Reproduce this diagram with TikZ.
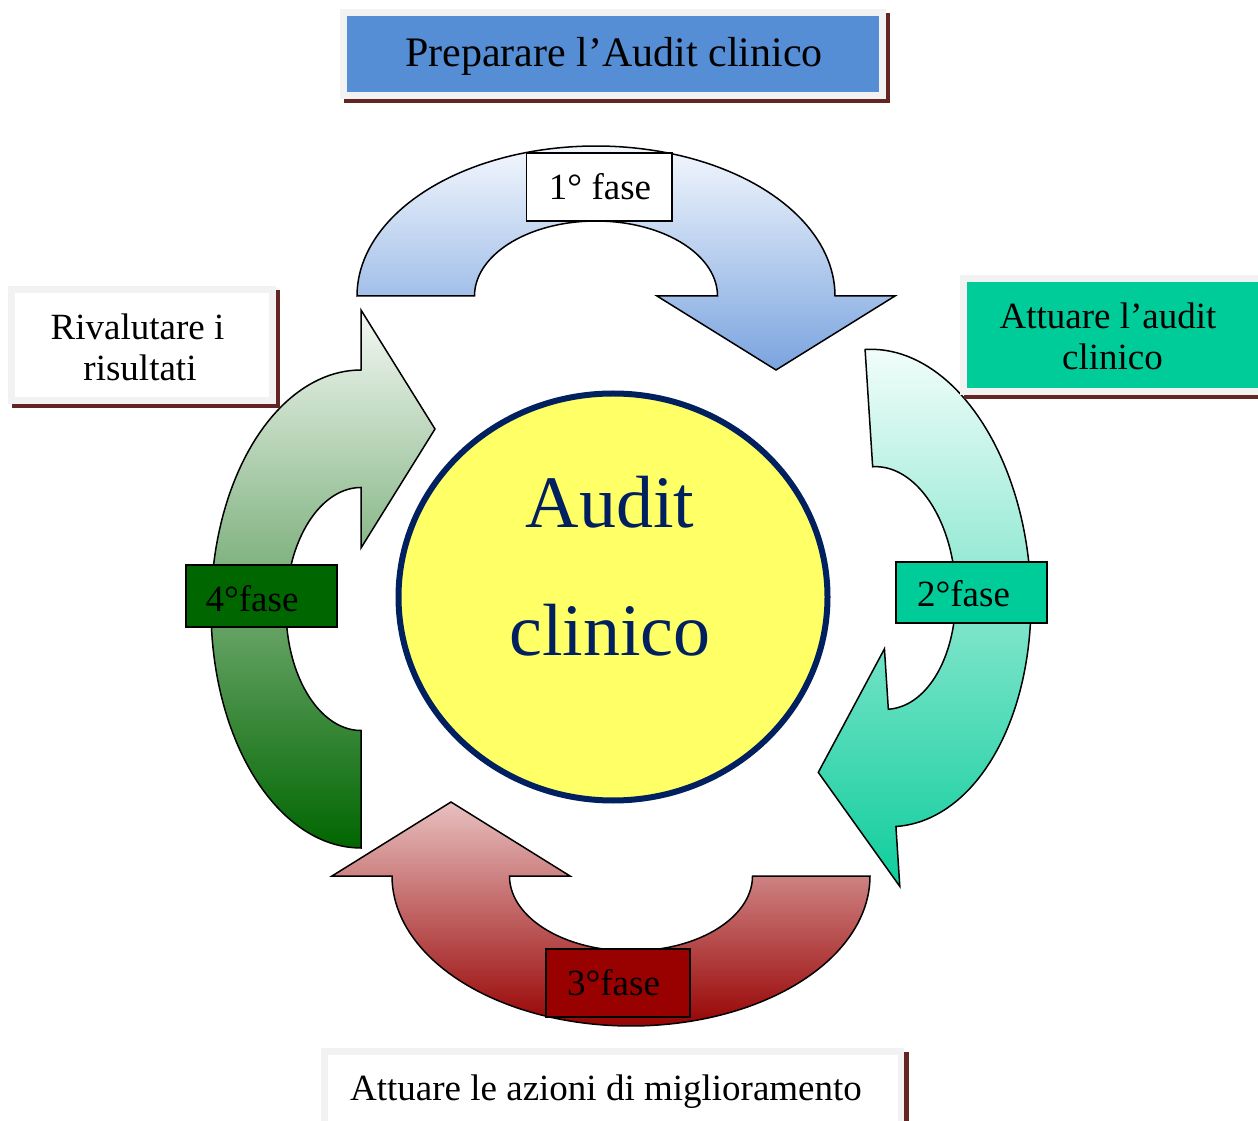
\documentclass[tikz,border=0pt]{standalone}
\usepackage{fontspec}
\setmainfont{Liberation Serif}
\usetikzlibrary{shapes.geometric}
\definecolor{shadowred}{RGB}{99,37,35}
\definecolor{framegray}{RGB}{242,242,242}
\definecolor{topblue}{RGB}{85,142,213}
\definecolor{audgreen}{RGB}{0,204,153}
\definecolor{navy}{RGB}{0,32,96}
\definecolor{circfill}{RGB}{255,255,102}
\definecolor{fasered}{RGB}{153,0,0}
\definecolor{fasegreen}{RGB}{0,102,0}
\definecolor{blueA}{RGB}{243,247,253}
\definecolor{blueB}{RGB}{122,164,223}
\definecolor{tealA}{RGB}{241,253,250}
\definecolor{tealB}{RGB}{14,205,156}
\definecolor{redA}{RGB}{232,192,192}
\definecolor{redB}{RGB}{152,4,4}
\definecolor{greenA}{RGB}{244,248,244}
\definecolor{greenB}{RGB}{0,102,0}
\newcommand\cyclearrow[5]{%
  \def\acx{#1}\def\acy{#2}\def\aan{#3}%
  \shadedraw[top color=#4, bottom color=#5, draw=black, line width=1.5pt, line join=miter]
   plot[domain=180:0, samples=90, variable=\t]
     ({\acx+239*cos(\t)*cos(\aan)-150*sin(\t)*sin(\aan)},{\acy+239*cos(\t)*sin(\aan)+150*sin(\t)*cos(\aan)})
   -- ({\acx+299*cos(\aan)},{\acy+299*sin(\aan)})
   -- ({\acx+180*cos(\aan)+74*sin(\aan)},{\acy+180*sin(\aan)-74*cos(\aan)})
   -- ({\acx+61*cos(\aan)},{\acy+61*sin(\aan)})
   -- plot[domain=0:180, samples=90, variable=\t]
     ({\acx+121.5*cos(\t)*cos(\aan)-75*sin(\t)*sin(\aan)},{\acy+121.5*cos(\t)*sin(\aan)+75*sin(\t)*cos(\aan)})
   -- cycle;
}
\tikzset{
  lbltext/.style={font=\fontsize{37}{44}\selectfont, anchor=base, inner sep=0pt, text=black},
  titletext/.style={font=\fontsize{42}{50}\selectfont, anchor=base, inner sep=0pt, text=black},
  bigtext/.style={font=\fontsize{74}{88}\selectfont, anchor=base, inner sep=0pt, text=navy},
  fasebox/.style={draw=black, line width=1.8pt, rectangle, inner sep=0pt},
}
\begin{document}
\begin{tikzpicture}[x=1pt,y=1pt]
\useasboundingbox (0,0) rectangle (1258,1120);
\fill[white] (0,0) rectangle (1258,1120);

% circular arrows
\cyclearrow{596}{824}{0}{blueA}{blueB}
\cyclearrow{880.5}{532}{-86.3}{tealA}{tealB}
\cyclearrow{631}{244}{180}{redA}{redB}
\cyclearrow{361}{511}{90}{greenA}{greenB}

% central ellipse
\node[draw=navy, line width=6pt, fill=circfill, ellipse, minimum width=429pt, minimum height=407pt, inner sep=0pt] (core) at (613,523) {};
\node[bigtext] (audit) at (610,592) {Audit};
\node[bigtext] (clinico) at (610,464) {clinico};

% phase labels
\node[fasebox, fill=white, minimum width=145.5pt, minimum height=68pt] (f1box) at (599.25,933) {};
\node[lbltext] (f1) at (600,920.7) {1° fase};
\node[fasebox, fill=audgreen, minimum width=151pt, minimum height=61pt] (f2box) at (971.5,527.5) {};
\node[lbltext] (f2) at (963.5,513) {2°fase};
\node[fasebox, fill=fasered, minimum width=144pt, minimum height=68pt] (f3box) at (618,137) {};
\node[lbltext] (f3) at (613.5,125) {3°fase};
\node[fasebox, fill=fasegreen, minimum width=151pt, minimum height=62pt] (f4box) at (261.5,524) {};
\node[lbltext] (f4) at (252,508) {4°fase};

% top box
\fill[shadowred] (344,1107) rectangle (890,1017);
\fill[framegray] (340,1110.7) rectangle (886,1021);
\fill[topblue] (347,1104) rectangle (879,1028);
\node[titletext] (prep) at (614,1053.3) {Preparare l’Audit clinico};

% left box
\fill[shadowred] (12,830) rectangle (280,712);
\fill[framegray] (8,834) rectangle (276,716);
\fill[white] (15,827) rectangle (269,723);
\node[lbltext] (riv1) at (137.5,780.7) {Rivalutare i};
\node[lbltext] (riv2) at (140,739.3) {risultati};

% right box
\fill[shadowred] (964,841) rectangle (1262,721);
\fill[framegray] (960,845) rectangle (1262,725);
\fill[audgreen] (967,838) rectangle (1262,732);
\node[lbltext] (att1) at (1108,791.7) {Attuare l’audit};
\node[lbltext] (att2) at (1112.5,750) {clinico};

% bottom box
\fill[shadowred] (325,68) rectangle (909,-5);
\fill[framegray] (321,72) rectangle (904,-5);
\fill[white] (327.5,65) rectangle (897.5,-5);
\node[lbltext] (azioni) at (606,20) {Attuare le azioni di miglioramento};
\end{tikzpicture}
\end{document}
